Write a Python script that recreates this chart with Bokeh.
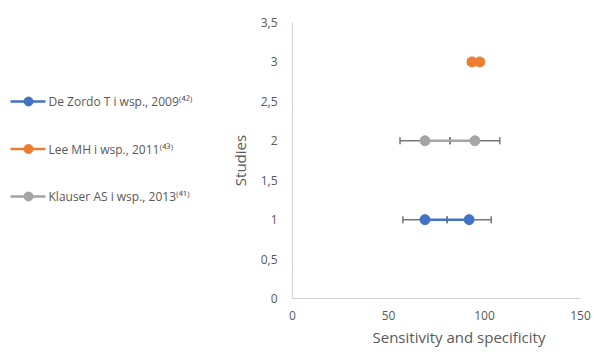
from bokeh.plotting import figure
from bokeh.models import Range1d, ColumnDataSource, Whisker, TeeHead, FixedTicker, Title
from bokeh.layouts import row
from bokeh.embed import file_html
from bokeh.resources import INLINE
from bokeh.core.properties import value

# ---- data ----
names = ["De Zordo T i wsp., 2009", "Lee MH i wsp., 2011", "Klauser AS i wsp., 2013"]
refs = ["⁽⁴²⁾", "⁽⁴³⁾", "⁽⁴¹⁾"]
colors = ["#4472C4", "#ED7D31", "#A5A5A5"]
study = [1, 3, 2]
dezordo_x = [69, 92]
lee_x = [93.5, 97.5]
klauser_x = [69, 95]
dezordo_err = [11.5, 11.5]
lee_err = [2, 2]
klauser_err = [13, 13]
x_ticks = [0, 50, 100, 150]
y_ticks = [0, 0.5, 1, 1.5, 2, 2.5, 3, 3.5]
y_tick_labels = ["0", "0,5", "1", "1,5", "2", "2,5", "3", "3,5"]
x_title = "Sensitivity and specificity"
y_title = "Studies"

series_x = [dezordo_x, lee_x, klauser_x]
series_err = [dezordo_err, lee_err, klauser_err]

FONT = "Open Sans"
TXT = "#595959"
ERR = "#767676"

TOTAL_W, TOTAL_H = 594, 352
LEG_W = 220
B_TOP, B_BOTTOM = 22, 54

# ---- legend figure ----
leg = figure(width=LEG_W, height=TOTAL_H, x_range=Range1d(0, LEG_W),
             y_range=Range1d(TOTAL_H - B_BOTTOM, B_TOP),
             output_backend="svg", toolbar_location=None,
             min_border_left=0, min_border_right=0, min_border_top=B_TOP, min_border_bottom=B_BOTTOM,
             x_axis_location=None, y_axis_location=None)
leg.grid.visible = False
leg.outline_line_color = None
row_top, row_step = 101, 47.5
for i, (nm, rf, c) in enumerate(zip(names, refs, colors)):
    yy = row_top + i * row_step
    leg.line([10, 45], [yy, yy], line_color=c, line_width=2.5)
    leg.scatter([28], [yy], size=9, color=c)
    leg.text([48], [yy], text=[nm + rf], text_font=value(FONT), text_font_size="12px",
             text_color=TXT, text_baseline="middle", text_align="left")

# ---- main figure ----
p = figure(width=TOTAL_W - LEG_W, height=TOTAL_H, x_range=Range1d(0, 150), y_range=Range1d(0, 3.5),
           output_backend="svg", toolbar_location=None,
           min_border_left=292 - LEG_W, min_border_right=14, min_border_top=B_TOP, min_border_bottom=B_BOTTOM)
p.grid.visible = False
p.outline_line_color = None
p.background_fill_color = None
p.border_fill_color = None

for xs, errs, yv, c in zip(series_x, series_err, study, colors):
    src = ColumnDataSource(dict(base=[yv] * len(xs),
                                lower=[x - e for x, e in zip(xs, errs)],
                                upper=[x + e for x, e in zip(xs, errs)]))
    w = Whisker(source=src, base="base", lower="lower", upper="upper", dimension="width",
                line_color=ERR, line_width=1.5,
                upper_head=TeeHead(size=7, line_color=ERR, line_width=1.5),
                lower_head=TeeHead(size=7, line_color=ERR, line_width=1.5))
    w.level = "underlay"
    p.add_layout(w)
    p.line(xs, [yv] * len(xs), line_color=c, line_width=2.5)
    p.scatter(xs, [yv] * len(xs), size=10, color=c)

for ax in (p.xaxis[0], p.yaxis[0]):
    ax.axis_line_color = "#d0d0d0"
    ax.axis_line_width = 1
    ax.major_tick_line_color = None
    ax.minor_tick_line_color = None
    ax.major_tick_out = 0
    ax.major_tick_in = 0
    ax.major_label_text_font = FONT
    ax.major_label_text_font_size = "12px"
    ax.major_label_text_color = TXT
    ax.axis_label_text_font = FONT
    ax.axis_label_text_font_size = "15px"
    ax.axis_label_text_font_style = "normal"
    ax.axis_label_text_color = TXT

p.xaxis.ticker = FixedTicker(ticks=x_ticks)
p.yaxis.ticker = FixedTicker(ticks=y_ticks)
p.yaxis.major_label_overrides = {t: l for t, l in zip(y_ticks, y_tick_labels)}
p.yaxis.axis_label = y_title
p.xaxis.major_label_standoff = 12
p.yaxis.major_label_standoff = 15
p.yaxis.axis_label_standoff = 8

# x-axis title, shifted a little right of the frame centre as in the original
p.add_layout(Title(text=x_title, align="left", offset=80, standoff=4, text_font=FONT,
                   text_font_size="15px", text_font_style="normal", text_color=TXT), "below")

layout = row(leg, p)
open("out.html", "w").write(file_html(layout, INLINE))
